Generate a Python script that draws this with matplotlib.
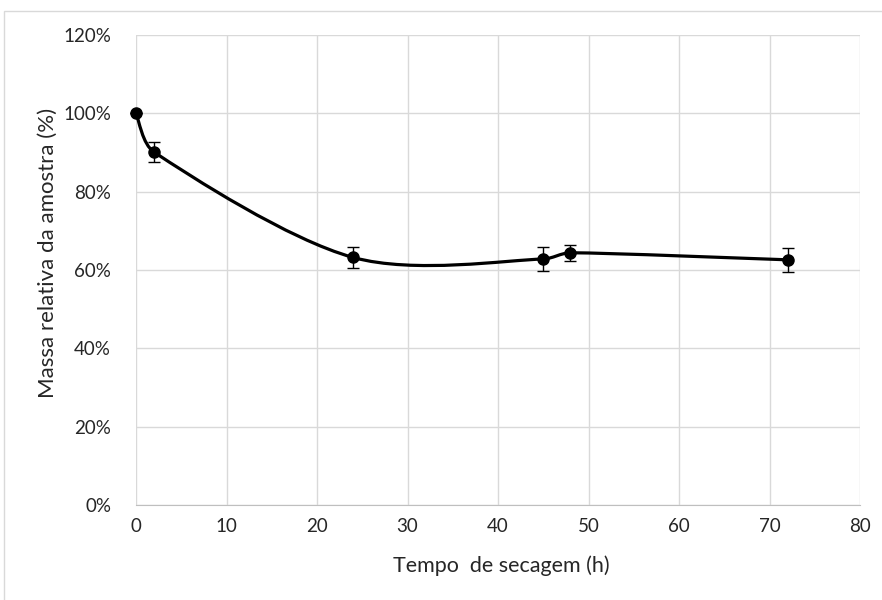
import numpy as np
import matplotlib
matplotlib.use("Agg")
import matplotlib.pyplot as plt
from matplotlib.path import Path
from matplotlib.patches import PathPatch, Rectangle
from matplotlib.ticker import PercentFormatter

plt.rcParams['font.family'] = ['Lato', 'DejaVu Sans']

# dados
tempo = [0, 2, 24, 45, 48, 72]              # h
massa = [100.0, 90.1, 63.2, 62.8, 64.4, 62.6]  # %
erro = [0.0, 2.5, 2.6, 3.0, 2.1, 3.0]        # %

fig = plt.figure(figsize=(8.82, 6.0), dpi=100)
ax = fig.add_axes([136/882, 95/600, 724/882, 470/600])

ax.set_xlim(0, 80)
ax.set_ylim(0, 120)
ax.set_xticks(np.arange(0, 81, 10))
ax.set_yticks(np.arange(0, 121, 20))
ax.yaxis.set_major_formatter(PercentFormatter(decimals=0))
ax.grid(True, color='#d9d9d9', linewidth=1)
ax.set_axisbelow(True)
for s in ['top', 'right', 'left']:
    ax.spines[s].set_visible(False)
ax.spines['bottom'].set_color('#bfbfbf')
ax.tick_params(length=0, labelsize=13.5, colors='#262626')
ax.tick_params(axis='y', pad=18)
ax.tick_params(axis='x', pad=9)

# linha suavizada (curva de Bezier estilo Excel)
sx = 724/80.0   # px por hora
sy = 470/120.0  # px por %
P = np.column_stack([np.array(tempo) * sx, np.array(massa) * sy])
n = len(P)
verts = [P[0]]
codes = [Path.MOVETO]
for i in range(n - 1):
    a = P[i - 1] if i > 0 else P[i]
    b = P[i]
    c = P[i + 1]
    d = P[i + 2] if i + 2 < n else P[i + 1]
    seg = np.hypot(*(c - b))
    t1 = (c - a) / 6.0
    t2 = (d - b) / 6.0
    if np.hypot(*t1) > seg / 3:
        t1 = t1 / np.hypot(*t1) * seg / 3
    if np.hypot(*t2) > seg / 3:
        t2 = t2 / np.hypot(*t2) * seg / 3
    verts += [b + t1, c - t2, c]
    codes += [Path.CURVE4] * 3
verts = np.array(verts) / [sx, sy]
ax.add_patch(PathPatch(Path(verts, codes), facecolor='none', edgecolor='black',
                       linewidth=2.3, capstyle='round', joinstyle='round', zorder=3))

ax.errorbar(tempo, massa, yerr=erro, fmt='o', color='black', markersize=8,
            ecolor='black', elinewidth=1, capsize=4.5, capthick=1, zorder=4, clip_on=False)

fig.text(501/882, 1 - 566/600, 'Tempo  de secagem (h)', fontsize=15.5, color='#262626',
         ha='center', va='center')
fig.text(48/882, 1 - 253/600, 'Massa relativa da amostra (%)', fontsize=16, color='#262626',
         ha='center', va='center', rotation=90)

fig.patches.append(Rectangle((4/882, -0.05), 1.2, (589/600) + 0.05, transform=fig.transFigure,
                             fill=False, edgecolor='#d9d9d9', linewidth=1))

fig.savefig('out.png', dpi=100)
